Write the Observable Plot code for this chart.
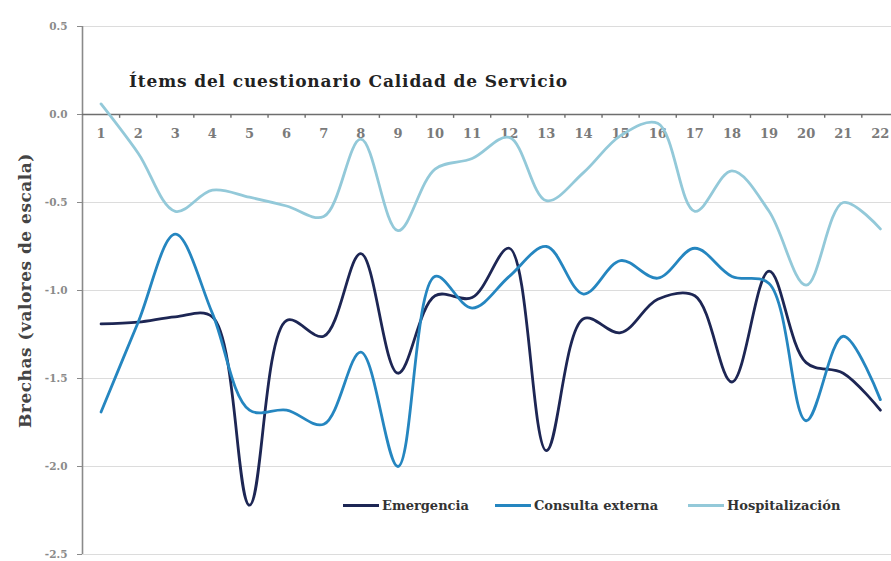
<!DOCTYPE html>
<html>
<head>
<meta charset="utf-8">
<script src="https://cdn.jsdelivr.net/npm/d3@7"></script>
<script src="https://cdn.jsdelivr.net/npm/@observablehq/plot@0.6"></script>
<style>
  html, body { margin: 0; padding: 0; background: #fff; }
  #wrap { position: relative; width: 891px; height: 561px; overflow: hidden; }
  #title { position: absolute; left: 129px; top: 71px; font: bold 17px "DejaVu Serif"; letter-spacing: 0.85px; color: #222; white-space: nowrap; }
  #legend { position: absolute; top: 498px; left: 0; width: 891px; height: 20px; font: bold 13px "DejaVu Serif"; color: #333; }
  .item { position: absolute; display: flex; align-items: center; white-space: nowrap; }
  .swatch { display: inline-block; width: 36px; height: 3px; margin-right: 3px; }
</style>
</head>
<body>
<div id="wrap">
  <div id="chart"></div>
  <div id="title"></div>
  <div id="legend"></div>
</div>
<script>
// ---- data ----
const items = [1, 2, 3, 4, 5, 6, 7, 8, 9, 10, 11, 12, 13, 14, 15, 16, 17, 18, 19, 20, 21, 22];
const emergencia = [-1.19, -1.18, -1.15, -1.15, -2.22, -1.17, -1.26, -0.79, -1.47, -1.03, -1.04, -0.76, -1.91, -1.16, -1.24, -1.05, -1.03, -1.52, -0.89, -1.41, -1.47, -1.68];
const consulta = [-1.69, -1.18, -0.68, -1.13, -1.68, -1.68, -1.76, -1.35, -2.00, -0.92, -1.10, -0.92, -0.75, -1.02, -0.83, -0.93, -0.76, -0.92, -0.96, -1.74, -1.26, -1.62];
const hospitalizacion = [0.06, -0.22, -0.55, -0.43, -0.47, -0.52, -0.58, -0.14, -0.66, -0.31, -0.25, -0.13, -0.49, -0.33, -0.12, -0.05, -0.55, -0.32, -0.55, -0.97, -0.50, -0.65];
const seriesNames = ["Emergencia", "Consulta externa", "Hospitalización"];
const seriesColors = ["#1d2654", "#2586c0", "#93c9d9"];
const yTicks = [0.5, 0.0, -0.5, -1.0, -1.5, -2.0, -2.5];
const titleText = "Ítems del cuestionario Calidad de Servicio";
const yLabel = "Brechas (valores de escala)";

// ---- table ----
const seriesValues = [emergencia, consulta, hospitalizacion];
const rows = [];
seriesNames.forEach((name, s) => {
  items.forEach((it, i) => rows.push({ item: it, value: seriesValues[s][i], series: name }));
});
const boundaries = items.slice(0, -1).map(d => d + 0.5);

const chart = Plot.plot({
  width: 891,
  height: 561,
  marginLeft: 82,
  marginRight: 0,
  marginTop: 26,
  marginBottom: 7,
  x: { type: "linear", domain: [0.5, 22.3], axis: null },
  y: { domain: [-2.5, 0.5], axis: null },
  color: { domain: seriesNames, range: seriesColors },
  style: { fontFamily: "DejaVu Serif", background: "white" },
  marks: [
    Plot.gridY(yTicks, { stroke: "#dcdcdc", strokeOpacity: 1, strokeWidth: 1.2 }),
    Plot.ruleX([0.5], { y1: -2.5, y2: 0.5, stroke: "#8a8a8a", strokeWidth: 1.6 }),
    Plot.axisY(yTicks, {
      anchor: "left",
      tickSize: 5,
      tickPadding: 10,
      tickFormat: d => d.toFixed(1),
      fontSize: 10.5,
      fontWeight: "bold",
      fill: "#8a8a8a",
      stroke: "#8a8a8a",
      label: null
    }),
    Plot.ruleY([0], { stroke: "#6e6e6e", strokeWidth: 1.6 }),
    Plot.ruleX(boundaries, { y1: 0, y2: -0.022, stroke: "#6e6e6e", strokeWidth: 1.4 }),
    Plot.text(items, { x: d => d, y: 0, dy: 19, text: d => String(d), fontSize: 13, fontWeight: "bold", fill: "#7a7a7a" }),
    Plot.text([yLabel], { frameAnchor: "left", textAnchor: "middle", lineAnchor: "middle", rotate: -90, dx: -57, text: d => d, fontSize: 17, fontWeight: "bold", fill: "#444", style: "letter-spacing:0.5px" }),
    Plot.line(rows, { x: "item", y: "value", z: "series", stroke: "series", curve: "catmull-rom", strokeWidth: 2.8 })
  ]
});
document.getElementById("chart").appendChild(chart);
document.getElementById("title").textContent = titleText;
// letter spacing on y label
chart.querySelectorAll("text").forEach(t => { if (t.textContent === yLabel) t.setAttribute("letter-spacing", "0.5"); });

// legend
const legendX = [343, 495, 688];
const legend = document.getElementById("legend");
seriesNames.forEach((name, i) => {
  const el = document.createElement("div");
  el.className = "item";
  el.style.left = legendX[i] + "px";
  const sw = document.createElement("span");
  sw.className = "swatch";
  sw.style.background = seriesColors[i];
  const tx = document.createElement("span");
  tx.textContent = name;
  el.appendChild(sw);
  el.appendChild(tx);
  legend.appendChild(el);
});
</script>
</body>
</html>
